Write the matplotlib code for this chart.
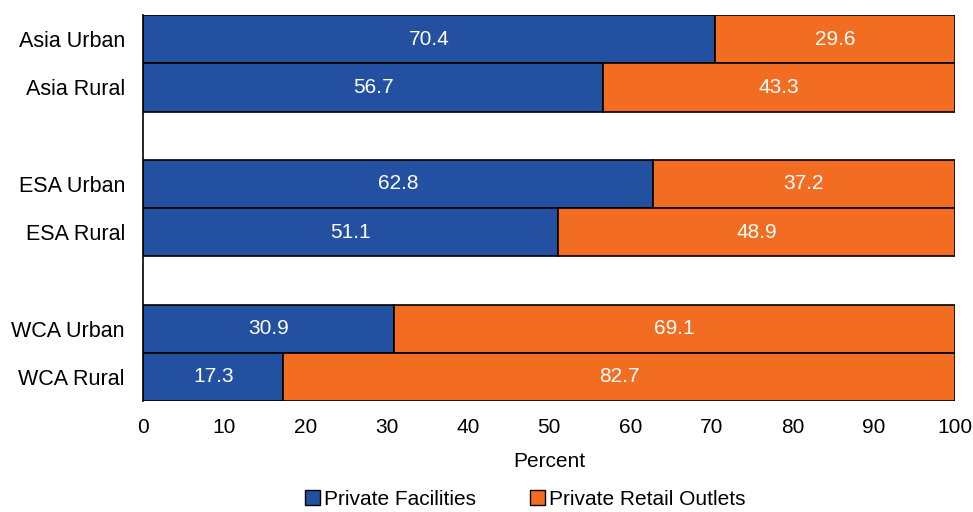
import matplotlib
matplotlib.use("Agg")
import matplotlib.pyplot as plt
from matplotlib.patches import Patch

categories = ["Asia Urban", "Asia Rural", "ESA Urban", "ESA Rural", "WCA Urban", "WCA Rural"]
facilities = [70.4, 56.7, 62.8, 51.1, 30.9, 17.3]
retail = [29.6, 43.3, 37.2, 48.9, 69.1, 82.7]
series_names = ["Private Facilities", "Private Retail Outlets"]
positions = [0, 1, 3, 4, 6, 7]
xticks = [0, 10, 20, 30, 40, 50, 60, 70, 80, 90, 100]

blue = "#2350A0"
orange = "#F26D21"
fs = 15

plt.rcParams['font.family'] = ['Liberation Sans', 'DejaVu Sans']

fig = plt.figure(figsize=(9.73, 5.12), dpi=100)
ax = fig.add_axes([143/973, 1-401/512, (955-143)/973, (401-15)/512])

ax.barh(positions, facilities, height=1.0, color=blue, edgecolor="black", linewidth=1.2)
ax.barh(positions, retail, left=facilities, height=1.0, color=orange, edgecolor="black", linewidth=1.2)

for p, f, r in zip(positions, facilities, retail):
    ax.text(f/2, p, f"{f:.1f}", ha="center", va="center", color="white", fontsize=fs)
    ax.text(f + r/2, p, f"{r:.1f}", ha="center", va="center", color="white", fontsize=fs)

ax.set_ylim(7.5, -0.5)
ax.set_xlim(0, 100)
ax.set_yticks(positions)
ax.set_yticklabels(categories, fontsize=15.5)
ax.set_xticks(xticks)
ax.set_xticklabels([str(t) for t in xticks], fontsize=fs)
ax.tick_params(axis="both", length=0)
ax.tick_params(axis="y", pad=13)
ax.tick_params(axis="x", pad=12)
for s in ["top", "right", "bottom"]:
    ax.spines[s].set_visible(False)
ax.spines["left"].set_linewidth(1.2)
ax.set_xlabel("Percent", fontsize=fs, labelpad=11)

handles = [Patch(facecolor=blue, edgecolor="black"), Patch(facecolor=orange, edgecolor="black")]
fig.legend(handles, series_names, loc="lower center", bbox_to_anchor=(0.54, -0.03), ncol=2,
           frameon=False, fontsize=fs, handlelength=0.7, handleheight=0.7, handletextpad=0.2,
           columnspacing=2.6)

fig.savefig("out.png", dpi=100)
